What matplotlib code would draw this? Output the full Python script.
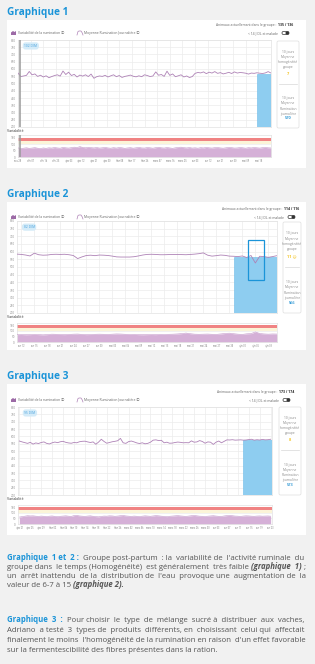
import numpy as np
import matplotlib
matplotlib.use("Agg")
import matplotlib.pyplot as plt
from matplotlib.patches import Rectangle, FancyBboxPatch, Polygon

plt.rcParams['font.family'] = ['Open Sans', 'DejaVu Sans']

W, H = 315, 664

# ---------------- data ----------------
# graphique 1 : one value every 2 days
g1_line = [572, 548, 552, 556, 583, 560, 566, 549, 557, 545,
           553, 540, 548, 555, 560, 551, 586, 562, 578, 555,
           563, 545, 558, 551, 560, 548, 565, 536, 547, 552,
           549, 556, 545, 553, 560, 547, 555, 542, 549, 553,
           558, 550, 546, 553, 547, 560, 555, 548, 552, 580,
           557, 562, 549, 585, 556, 566, 547, 553, 560, 545,
           552, 541, 548,
           570, 576, 573, 580, 568, 578, 572, 582, 570, 575,
           566, 571, 577, 569, 580, 572, 576, 574, 571, 565,
           572, 570, 574, 571, 569, 573, 582, 572]
g1_var = [70, 66, 68, 71, 67, 69, 72, 68, 65, 70, 67, 71, 69, 73, 70, 68,
          74, 71, 69, 72, 76, 73, 80, 74, 71, 75, 72, 70, 73, 69, 71, 74,
          70, 68, 72, 69, 73, 71, 67, 70, 72, 68, 71, 74, 70, 69, 73, 71,
          68, 72, 75, 71, 69, 73, 70, 67, 71, 74, 76, 72, 70, 73, 69, 71,
          68, 72, 70, 74, 71, 69, 72, 73, 70, 68, 71, 74, 72, 69, 70, 73,
          71, 68, 72, 70, 73, 71, 69, 72, 74, 71, 70]
g1_ticks = ["nov 28", "déc 07", "déc 16", "déc 25", "janv 03", "janv 12",
            "janv 21", "janv 30", "févr 08", "févr 17", "févr 26", "mars 07",
            "mars 16", "mars 25", "avr 03", "avr 12", "avr 21", "avr 30",
            "mai 09", "mai 18"]
g1_bar = 567
g1_side = ["7", "570"]
g1_counts = "135 / 136"

# graphique 2 : daily values
g2_line = [584, 582, 578, 572, 590, 580, 577, 578, 582, 583,
           582, 583, 580, 575, 555, 566, 575, 577, 574, 578,
           577, 575, 571, 566, 565, 565, 565, 567, 572, 578,
           582, 583, 582, 580, 580, 581, 581, 582, 581, 580,
           582, 584, 587, 592, 577, 571, 574, 578, 576, 571,
           570, 568, 572, 562, 575, 526, 570, 568, 563, 568, 574]
g2_var = [66, 67, 65, 66, 68, 66, 64, 66, 70, 69, 67, 66, 68, 70, 71, 68,
          66, 67, 69, 70, 69, 68, 70, 72, 71, 69, 67, 68, 66, 65, 66, 67,
          66, 68, 67, 69, 70, 72, 75, 80, 74, 70, 69, 70, 71, 69, 68, 72,
          76, 79, 74, 70, 68, 73, 75, 90, 76, 72, 70, 72, 71]
g2_ticks = ["avr 12", "avr 15", "avr 18", "avr 21", "avr 24", "avr 27",
            "avr 30", "mai 03", "mai 06", "mai 09", "mai 12", "mai 15",
            "mai 18", "mai 21", "mai 24", "mai 27", "mai 30", "juin 02",
            "juin 05", "juin 08"]
g2_bar = 564
g2_side = ["11 ☹", "566"]
g2_counts = "114 / 116"
g2_zoom_box = (53.4, 416, 3.7, 258)   # x, y, width, height of the blue frame

# graphique 3 : daily values
g3_line = [568, 562, 557, 552, 559, 547, 555, 551, 558, 562,
           552, 548, 556, 561, 557, 563, 566, 559, 555, 553,
           558, 556, 563, 566, 567, 562, 558, 562, 546, 561,
           580, 565, 553, 558, 563, 566, 570, 586, 556, 552,
           564, 568, 562, 555, 551, 556, 549, 552, 560, 574,
           576, 571, 573, 556, 560, 553, 554, 558, 561, 559,
           556, 557, 556, 569, 560, 562, 571, 565, 553, 562,
           560, 545, 560, 568, 556, 566, 576, 575, 577, 574,
           575, 576, 574, 575, 578, 580, 574, 577, 575, 579,
           576, 577, 580]
g3_var = [62, 66, 70, 74, 72, 73, 70, 68, 71, 69, 67, 70, 72, 68, 66, 69,
          71, 73, 70, 68, 75, 77, 72, 70, 68, 71, 73, 69, 66, 64, 68, 71,
          70, 73, 72, 69, 71, 74, 76, 72, 70, 68, 71, 69, 67, 70, 73, 71,
          69, 72, 75, 73, 70, 68, 66, 69, 71, 73, 75, 72, 70, 68, 71, 74,
          76, 73, 70, 69, 67, 70, 72, 74, 71, 69, 68, 72, 75, 77, 74, 71,
          70, 68, 71, 73, 72, 70, 69, 71, 72, 70, 71, 72, 70]
g3_ticks = ["janv 21", "janv 25", "janv 29", "févr 02", "févr 06", "févr 10",
            "févr 14", "févr 18", "févr 22", "févr 26", "mars 02", "mars 06",
            "mars 10", "mars 14", "mars 18", "mars 22", "mars 26", "mars 30",
            "avr 03", "avr 07", "avr 11", "avr 15", "avr 19", "avr 23"]
g3_bar = 575
g3_side = ["8", "573"]
g3_counts = "173 / 174"

side_labels = [["10 jours", "Moyenne", "homogénéité", "groupe"],
               ["10 jours", "Moyenne", "Rumination", "journalière"]]

BLUE = '#1b94d8'
PURPLE = '#ae82b6'
FILL = '#d5b0d7'
GRID = '#ececec'
TICK = '#8a8a8a'
LEG_FONT = ['Open Sans', 'Noto Sans CJK SC', 'DejaVu Sans']
COND = ['Roboto Condensed', 'Open Sans', 'DejaVu Sans']
BODY = ['Open Sans', 'DejaVu Sans']


def rect(x0, y0, x1, y1):
    return [x0 / W, 1 - y1 / H, (x1 - x0) / W, (y1 - y0) / H]


fig = plt.figure(figsize=(W / 100, H / 100), dpi=100)
fig.patch.set_facecolor('#f1f1f1')
bg = fig.add_axes([0, 0, 1, 1], zorder=0)
bg.set_xlim(0, W); bg.set_ylim(H, 0); bg.axis('off')
ov = fig.add_axes([0, 0, 1, 1], zorder=10)
ov.set_xlim(0, W); ov.set_ylim(H, 0); ov.axis('off')


def chart(title, ty, panel, hy, main, side, var_y, vax, line, var, step,
          xlim, tick_step, tick_start, ticks, bar, bar_len, side_vals, counts,
          badge, vline=None):
    ov.text(7, ty, title, fontsize=7.3, fontweight='bold', color=BLUE, va='center')
    bg.add_patch(Rectangle((panel[0], panel[1]), panel[2] - panel[0],
                           panel[3] - panel[1], fc='white', ec='none'))
    # header + legend
    xr = main[2] + 22
    ov.text(xr, hy, counts, fontsize=2.5, fontweight='bold', color='#222',
            ha='right', va='center')
    ov.text(xr - 17, hy, "Animaux actuellement dans le groupe :", fontsize=2.4,
            color='#666', ha='right', va='center')
    ly = hy + 8
    ov.add_patch(Polygon([(11, ly + 2), (11, ly - 0.5), (13, ly - 2), (14.5, ly - 1),
                          (16, ly - 2), (16, ly + 2)], closed=True, fc='#9c6aa6', ec='none'))
    ov.text(18, ly, "Variabilité de la rumination ⓘ", fontsize=2.4, color='#666',
            va='center', family=LEG_FONT)
    ov.plot([77, 78, 79, 81, 82, 83], [ly + 2, ly - 1.5, ly - 2, ly - 2, ly - 0.5, ly + 2],
            color=PURPLE, lw=0.5)
    ov.text(84, ly, "Moyenne Rumination Journalière ⓘ", fontsize=2.4, color='#666',
            va='center', family=LEG_FONT)
    tx = main[2] + 7
    ov.text(tx, ly, "< 14 J DL et malade", fontsize=2.4, color='#666', ha='right', va='center')
    ov.add_patch(FancyBboxPatch((tx + 4, ly - 1.6), 7, 3.2,
                                boxstyle='round,pad=0,rounding_size=1.6',
                                fc='white', ec='#333', lw=0.5))
    ov.add_patch(FancyBboxPatch((tx + 7.5, ly - 1.6), 3.5, 3.2,
                                boxstyle='round,pad=0,rounding_size=1.5',
                                fc='#333', ec='none'))

    # main chart
    ax = fig.add_axes(rect(*main), zorder=2)
    x = np.arange(len(line)) * step
    tpos = tick_start + np.arange(len(ticks)) * tick_step
    ax.set_xlim(*xlim)
    ax.set_ylim(200, 800)
    ax.set_yticks(range(200, 801, 50))
    ax.set_xticks(tpos)
    ax.set_xticklabels([])
    ax.tick_params(length=0, labelsize=2.2, labelcolor=TICK, pad=1.5)
    ax.grid(True, color=GRID, lw=0.5)
    ax.set_axisbelow(True)
    for s in ax.spines.values():
        s.set_color('#e2e2e2'); s.set_linewidth(0.5)
    ax.bar(xlim[1] - bar_len, bar - 200, bottom=200, width=bar_len, align='edge',
           color='#8ecdf0', edgecolor='#6cbbe8', lw=0.4, zorder=2)
    ax.plot(x, line, color=PURPLE, lw=0.6, zorder=3)
    ax.text(0.025, 0.955, badge, transform=ax.transAxes, fontsize=2.3, color='#4aa3df',
            va='top', bbox=dict(boxstyle='round,pad=0.5,rounding_size=0.9',
                                fc='#d4ebf8', ec='none'))
    if vline is not None:
        ax.axvline(vline, color='#9a9a9a', lw=1.1, zorder=4)

    # side box
    sx0, sy0, sx1, sy1 = side
    ov.add_patch(FancyBboxPatch((sx0, sy0), sx1 - sx0, sy1 - sy0,
                                boxstyle='round,pad=0,rounding_size=1.5',
                                fc='white', ec='#dedede', lw=0.5))
    hh = sy1 - sy0
    cx = (sx0 + sx1) / 2
    for k, frs in enumerate([(0.126, 0.38), (0.66, 0.885)]):
        for j, lab in enumerate(side_labels[k]):
            ov.text(cx, sy0 + hh * (frs[0] + 0.058 * j), lab, fontsize=2.3,
                    color='#8a8a8a', ha='center', va='center')
        ov.text(cx, sy0 + hh * frs[1], side_vals[k], fontsize=2.8, fontweight='bold',
                color='#f3c320' if k == 0 else '#3d9fd8', ha='center', va='center')
    ov.plot([sx0 + 2, sx1 - 2], [sy0 + hh * 0.494] * 2, color='#d8d8d8', lw=0.5)

    # variability strip
    ov.text(7, var_y, "Variabilité", fontsize=2.6, color='#333', va='center')
    av = fig.add_axes(rect(*vax), zorder=2)
    xv = np.arange(len(var)) * step
    av.set_xlim(*xlim)
    av.set_ylim(0, 170)
    av.set_yticks([0, 50, 100, 150])
    av.set_xticks(tpos)
    av.set_xticklabels(ticks, family=COND)
    av.tick_params(length=0, labelsize=2.2, labelcolor=TICK, pad=1.5)
    av.tick_params(axis='x', labelsize=2.0)
    av.grid(True, axis='y', color=GRID, lw=0.5)
    av.set_axisbelow(True)
    for s in av.spines.values():
        s.set_color('#e2e2e2'); s.set_linewidth(0.5)
    av.axhspan(100, 122, color='#fbf4d8', lw=0, zorder=1)
    av.axhspan(122, 148, color='#f08383', lw=0, zorder=1)
    av.fill_between(xv, var, color=FILL, lw=0, zorder=2)
    av.plot(xv, var, color='#c497c9', lw=0.4, zorder=3)
    if vline is not None:
        av.axvline(vline, color='#9a9a9a', lw=1.1, zorder=4)
    return ax


chart("Graphique 1", 12, (7, 20, 306, 168), 25, (18, 40, 271, 127),
      (277, 41, 299, 128), 131.5, (18, 135, 271, 157),
      g1_line, g1_var, 2, (0, 180), 9, 0, g1_ticks, g1_bar, 10,
      g1_side, g1_counts, "102 DIM", vline=1.2)

ax2 = chart("Graphique 2", 194, (7, 202, 306, 350), 209, (17, 221, 277, 313),
            (283, 222, 301, 313), 316.5, (17, 323, 277, 342),
            g2_line, g2_var, 1, (0, 60), 3, 1, g2_ticks, g2_bar, 10,
            g2_side, g2_counts, "82 DIM")
bx, by, bw, bh = g2_zoom_box
ax2.add_patch(Rectangle((bx, by), bw, bh, fill=False, ec=BLUE, lw=0.9, zorder=5))

chart("Graphique 3", 376, (7, 384, 306, 535), 392, (18, 407, 272, 495),
      (279, 407, 301, 495), 499.5, (18, 505, 272, 524),
      g3_line, g3_var, 1, (-0.5, 92.5), 4, 0, g3_ticks, g3_bar, 10.5,
      g3_side, g3_counts, "95 DIM")

# ---------------- text below ----------------
para1 = [
    [("Graphique 1 et 2 :", 'b'), ("Groupe post-partum : la variabilité de l'activité ruminale du", 'n')],
    [("groupe dans le temps (Homogénéité) est généralement très faible", 'n'),
     ("(graphique 1)", 'i'), (";", 'n')],
    [("un arrêt inattendu de la distribution de l'eau provoque une augmentation de la", 'n')],
    [("valeur de 6-7 à 15", 'n'), ("(graphique 2).", 'i')],
]
para2 = [
    [("Graphique 3 :", 'b'), ("Pour choisir le type de mélange sucré à distribuer aux vaches,", 'n')],
    [("Adriano a testé 3 types de produits différents, en choisissant celui qui affectait", 'n')],
    [("finalement le moins l'homogénéité de la rumination en raison d'un effet favorable", 'n')],
    [("sur la fermentescibilité des fibres présentes dans la ration.", 'n')],
]
styles = {'n': dict(color='#555555'),
          'b': dict(color=BLUE, fontweight='bold'),
          'i': dict(color='#555555', fontweight='bold', fontstyle='italic')}
renderer = fig.canvas.get_renderer()
X0, X1 = 7, 306


def measure(s, fs, st='n'):
    t = ov.text(0, 0, s, fontsize=fs, family=BODY, **styles[st])
    w = t.get_window_extent(renderer).width
    t.remove()
    return w


def line_width(runs, fs):
    return sum(measure(txt, fs, st) for txt, st in runs) + \
        (len(runs) - 1) * (measure("x x", fs) - measure("xx", fs))


# font size chosen so that the longest full line just fits the column
longest = max(line_width(r, 6.0) for r in para1[:-1] + para2[:-1])
FS = 6.0 * (X1 - X0 - 3) / longest
SPACE = measure("x x", FS) - measure("xx", FS)


def paragraph(lines, ys):
    for n, (runs, y) in enumerate(zip(lines, ys)):
        words = [(w, st) for txt, st in runs for w in txt.split()]
        g = len(words) - 1
        gaps = [1] * g
        if n < len(lines) - 1:
            # spread extra spaces evenly over the gaps to justify the line
            extra = max(int((X1 - X0 - line_width(runs, FS)) / SPACE), 0)
            base, rem = divmod(extra, g)
            gaps = [1 + base] * g
            for j in range(rem):
                gaps[int((j + 0.5) * g / rem)] += 1
        # regroup words into runs of the same style
        groups = []
        for i, (w, st) in enumerate(words):
            if groups and groups[-1][1] == st:
                groups[-1][0] += " " * gaps[i - 1] + w
                continue
            lead = gaps[i - 1] if i > 0 else 0
            groups.append([w, st, lead])
        xx = X0
        for txt, st, lead in groups:
            xx += lead * SPACE
            ov.text(xx, y, txt, fontsize=FS, va='baseline', family=BODY, **styles[st])
            xx += measure(txt, FS, st)


# baselines of the lines
paragraph(para1, [559.5, 569, 578, 587])
paragraph(para2, [622, 632, 642.5, 652.5])

fig.savefig("out.png", dpi=100, facecolor=fig.get_facecolor())
